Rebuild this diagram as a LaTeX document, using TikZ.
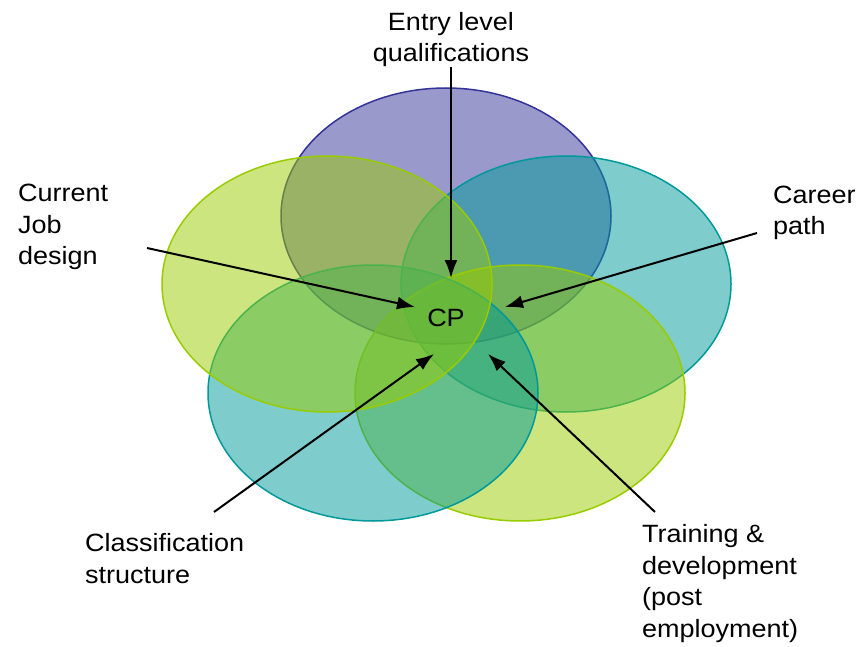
\documentclass[tikz,border=0pt]{standalone}
\usepackage{fontspec}
\setmainfont{Liberation Sans}[FakeStretch=1.08]
\usetikzlibrary{arrows.meta}
\definecolor{cppurple}{RGB}{51,51,153}
\definecolor{cpteal}{RGB}{0,153,153}
\definecolor{cpgreen}{RGB}{153,204,0}

\tikzset{
  area/.style={fill=#1, fill opacity=0.5, draw=#1, line width=1.5pt},
  lbl/.style={align=left, inner sep=0pt, font=\fontsize{25}{31.5}\selectfont},
  feed/.style={-{Latex[length=18pt,width=13pt]}, line width=2pt},
}

\begin{document}
\begin{tikzpicture}[x=1pt,y=-1pt]
     \useasboundingbox (0,0) rectangle (862,647);
     % five overlapping areas, back to front
     \draw [area=cppurple] (446,216) ellipse [x radius=165pt, y radius=128pt];
     \draw [area=cpteal]   (566,284) ellipse [x radius=165pt, y radius=128pt];
     \draw [area=cpgreen]  (520,393) ellipse [x radius=165pt, y radius=128pt];
     \draw [area=cpteal]   (373,393) ellipse [x radius=165pt, y radius=128pt];
     \draw [area=cpgreen]  (327,284) ellipse [x radius=165pt, y radius=128pt];

     \node [lbl] (cp) at (446,318) {CP};

     % labels sit on the baseline of their last line
     \node [lbl, align=center, anchor=base] (entry) at (451,62) {Entry level\\qualifications};
     \node [lbl, anchor=base west] (job) at (18,265) {Current\\Job\\design};
     \node [lbl, anchor=base west] (career) at (773,235) {Career\\path};
     \node [lbl, anchor=base west] (class) at (85,583) {Classification\\structure};
     \node [lbl, anchor=base west] (train) at (642,637) {Training \&\\development\\(post\\employment)};

     % arrow ends around CP
     \coordinate (entryTip)  at (451,278);
     \coordinate (jobTail)   at (147,248);
     \coordinate (jobTip)    at (415,307);
     \coordinate (careerTail) at (757,233);
     \coordinate (careerTip) at (505,307);
     \coordinate (classTail) at (214,512);
     \coordinate (classTip)  at (434,354);
     \coordinate (trainTail) at (655,512);
     \coordinate (trainTip)  at (488,354);

     \draw [feed] (entry.south) -- (entryTip);
     \draw [feed] (jobTail) -- (jobTip);
     \draw [feed] (careerTail) -- (careerTip);
     \draw [feed] (classTail) -- (classTip);
     \draw [feed] (trainTail) -- (trainTip);
\end{tikzpicture}
\end{document}
